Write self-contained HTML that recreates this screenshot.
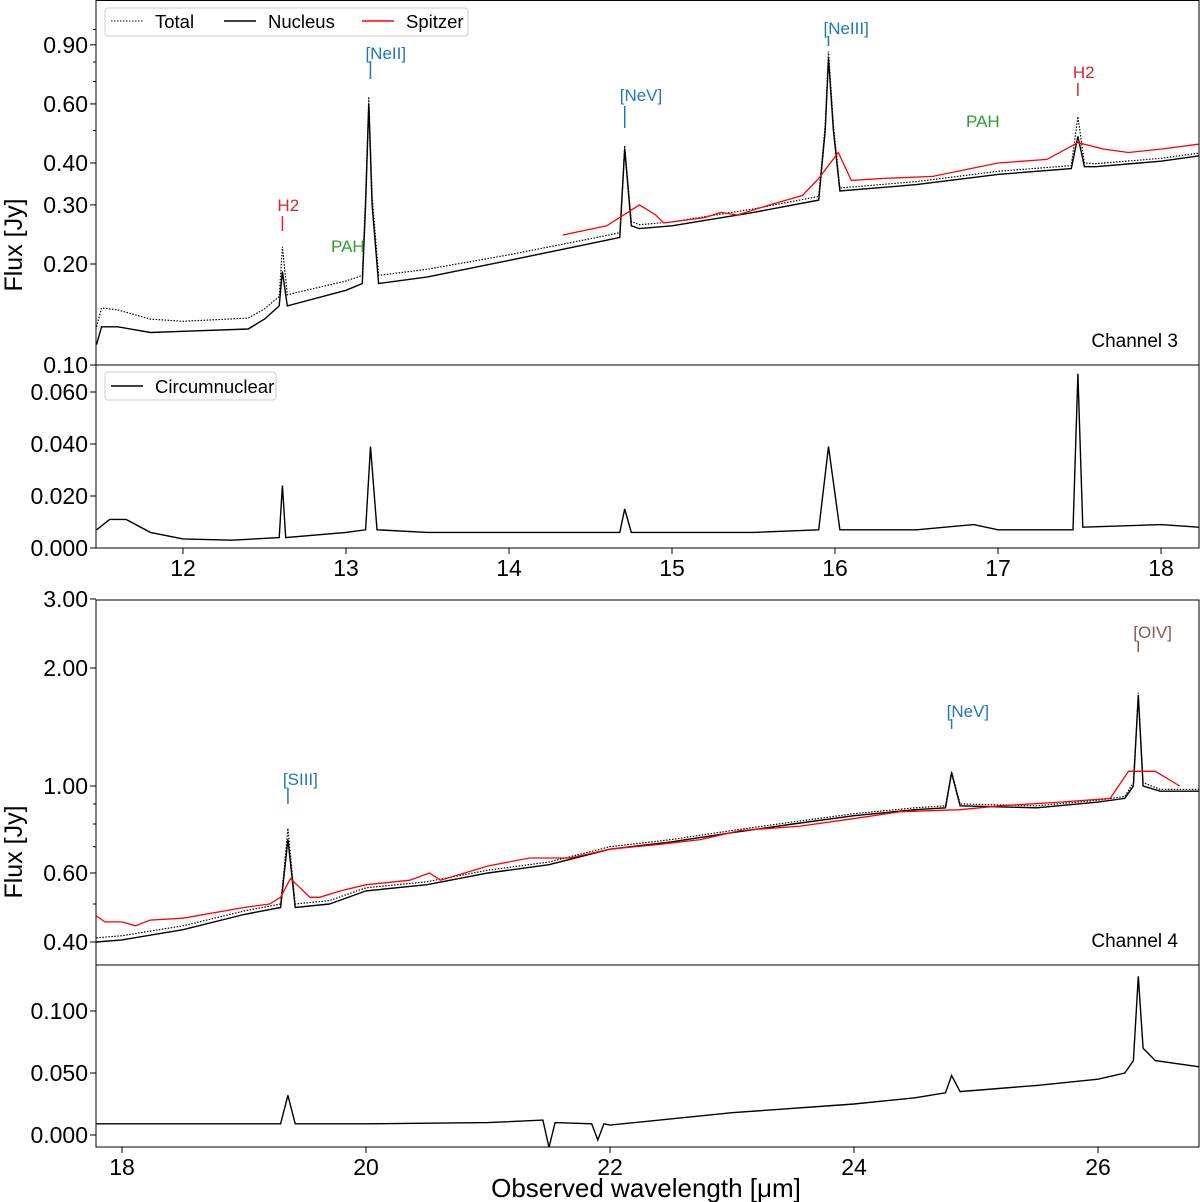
<!DOCTYPE html>
<html><head><meta charset="utf-8"><style>
body{margin:0;background:#fff;}
svg{display:block;font-family:"Liberation Sans","DejaVu Sans",sans-serif;}
</style></head><body>
<svg id="chart" width="1200" height="1202" viewBox="0 0 1200 1202" xmlns="http://www.w3.org/2000/svg">
<g id="root"></g>
</svg>
<script>
// ---------- Channel 3 data ----------
const ch3NucW=[11.47,11.5,11.6,11.8,12.0,12.4,12.5,12.59,12.61,12.64,13.0,13.1,13.12,13.14,13.16,13.2,13.5,14.0,14.5,14.68,14.71,14.75,14.8,15.0,15.5,15.9,15.94,15.96,15.99,16.03,16.5,17.0,17.45,17.49,17.53,17.6,18.0,18.23];
const ch3NucF=[0.115,0.13,0.13,0.125,0.126,0.128,0.137,0.15,0.19,0.15,0.167,0.175,0.3,0.6,0.3,0.175,0.183,0.205,0.23,0.24,0.44,0.26,0.255,0.26,0.285,0.31,0.5,0.82,0.5,0.33,0.345,0.37,0.385,0.48,0.39,0.39,0.405,0.42];
const ch3TotW=[11.47,11.5,11.6,11.8,12.0,12.4,12.5,12.59,12.61,12.64,13.0,13.1,13.12,13.14,13.16,13.2,13.5,14.0,14.5,14.68,14.71,14.75,14.8,15.0,15.5,15.9,15.94,15.96,15.99,16.03,16.5,17.0,17.45,17.49,17.53,17.6,18.0,18.23];
const ch3TotF=[0.13,0.148,0.146,0.137,0.135,0.138,0.147,0.16,0.225,0.162,0.178,0.185,0.32,0.63,0.32,0.185,0.193,0.213,0.238,0.248,0.45,0.268,0.262,0.267,0.292,0.318,0.52,0.86,0.52,0.337,0.352,0.378,0.393,0.55,0.4,0.398,0.413,0.428];
const ch3SpzW=[14.33,14.6,14.8,14.9,14.95,15.2,15.3,15.4,15.6,15.8,15.9,16.02,16.1,16.3,16.6,17.0,17.3,17.49,17.65,17.8,18.0,18.23];
const ch3SpzF=[0.244,0.26,0.3,0.28,0.265,0.275,0.285,0.28,0.3,0.32,0.36,0.43,0.355,0.36,0.365,0.4,0.41,0.46,0.44,0.43,0.44,0.455];
const ch3CirW=[11.47,11.55,11.65,11.8,12.0,12.3,12.59,12.61,12.63,13.0,13.12,13.15,13.19,13.5,14.0,14.68,14.71,14.75,15.5,15.9,15.96,16.03,16.5,16.85,17.0,17.46,17.49,17.52,18.0,18.23];
const ch3CirF=[0.007,0.011,0.011,0.006,0.0035,0.003,0.004,0.024,0.004,0.006,0.007,0.039,0.007,0.006,0.006,0.006,0.015,0.006,0.006,0.007,0.039,0.007,0.007,0.009,0.007,0.007,0.067,0.008,0.009,0.008];
// ---------- Channel 4 data ----------
const ch4NucW=[17.79,18.0,18.5,19.0,19.30,19.33,19.36,19.39,19.42,19.70,20.0,20.5,21.0,21.5,22.0,22.5,23.0,23.5,24.0,24.5,24.75,24.80,24.87,25.5,26.0,26.22,26.29,26.33,26.37,26.51,26.83];
const ch4NucF=[0.40,0.405,0.43,0.47,0.49,0.6,0.73,0.6,0.49,0.50,0.54,0.56,0.60,0.63,0.69,0.72,0.76,0.80,0.84,0.87,0.88,1.08,0.89,0.88,0.91,0.93,1.0,1.7,1.0,0.97,0.97];
const ch4TotW=[17.79,18.0,18.5,19.0,19.30,19.33,19.36,19.39,19.42,19.70,20.0,20.5,21.0,21.5,22.0,22.5,23.0,23.5,24.0,24.5,24.75,24.80,24.87,25.5,26.0,26.22,26.29,26.33,26.37,26.51,26.83];
const ch4TotF=[0.41,0.415,0.44,0.48,0.50,0.62,0.78,0.62,0.50,0.51,0.55,0.57,0.61,0.64,0.70,0.73,0.77,0.81,0.85,0.88,0.89,1.09,0.90,0.89,0.92,0.94,1.02,1.73,1.02,0.98,0.98];
const ch4SpzW=[17.79,17.86,18.0,18.11,18.23,18.5,19.0,19.21,19.30,19.38,19.46,19.54,19.62,19.79,20.0,20.36,20.52,20.61,21.0,21.34,21.67,22.0,22.41,22.74,23.07,23.56,24.05,24.38,24.87,25.2,25.69,26.1,26.25,26.47,26.67];
const ch4SpzF=[0.466,0.45,0.45,0.44,0.455,0.46,0.49,0.50,0.52,0.58,0.55,0.52,0.52,0.54,0.56,0.575,0.60,0.575,0.625,0.655,0.655,0.69,0.71,0.73,0.77,0.79,0.83,0.86,0.87,0.89,0.91,0.93,1.09,1.09,1.0];
const ch4CirW=[17.79,19.30,19.36,19.42,20.0,21.0,21.45,21.5,21.55,21.85,21.9,21.95,22.0,23.0,24.0,24.5,24.75,24.80,24.87,25.5,26.0,26.22,26.29,26.33,26.37,26.47,26.83];
const ch4CirF=[0.009,0.009,0.032,0.009,0.009,0.01,0.012,-0.01,0.01,0.009,-0.004,0.009,0.008,0.018,0.025,0.03,0.034,0.048,0.035,0.04,0.045,0.05,0.06,0.128,0.07,0.06,0.055];
// ---------- ticks ----------
const ch3XTicks=[12,13,14,15,16,17,18];
const ch4XTicks=[18,20,22,24,26];
const p1Ticks=[0.10,0.20,0.30,0.40,0.60,0.90];
const p1Minor=[0.5,0.7,0.8,1.0];
const p2Ticks=[0,0.02,0.04,0.06];
const p3Ticks=[0.40,0.60,1.00,2.00,3.00];
const p3Minor=[0.5,0.7,0.8,0.9];
const p4Ticks=[0,0.05,0.1];

const NS="http://www.w3.org/2000/svg";
const root=document.getElementById('root');
function el(tag,attrs,parent){const e=document.createElementNS(NS,tag);for(const k in attrs)e.setAttribute(k,attrs[k]);(parent||root).appendChild(e);return e;}
const L=96,R=1199;
const x3=w=>183+(w-12)*163;
const x4=w=>122+(w-18)*122;
const y1=f=>365-335.5*Math.log10(f/0.1);
const y2=f=>548-2600*f;
const y3=f=>942-392*Math.log10(f/0.4);
const y4=f=>1135-1240*f;
function path(W,F,xf,yf,attrs,name){
  let d='';for(let i=0;i<W.length;i++){d+=(i?'L':'M')+xf(W[i]).toFixed(1)+','+yf(F[i]).toFixed(1);}
  const p=el('path',Object.assign({d:d,fill:'none'},attrs));
  
  
  return p;
}
function text(x,y,s,attrs,name){const t=el('text',Object.assign({x:x,y:y},attrs));t.textContent=s;
  
  
  return t;}
function frame(top,bot,name){const r=el('rect',{x:L,y:top,width:R-L,height:bot-top,fill:'none',stroke:'#000','stroke-width':1});
  
  }
function yTicks(vals,yf,fmt,name,minor){
  vals.forEach(v=>{const y=yf(v);el('line',{x1:L-6,x2:L,y1:y,y2:y,stroke:'#000'});
    text(L-8,y+8,fmt(v),{'font-size':23,'text-anchor':'end'},name);});
  (minor||[]).forEach(v=>{const y=yf(v);el('line',{x1:L-3,x2:L,y1:y,y2:y,stroke:'#000'});});
}
function xTicks(vals,xf,yb,name){vals.forEach(v=>{const x=xf(v);el('line',{x1:x,x2:x,y1:yb,y2:yb+6,stroke:'#000'});
  text(x,yb+28,String(v),{'font-size':23,'text-anchor':'middle'},name);});}
function marker(x,yt,yl1,yl2,label,color,name){
  text(x-5,yt,label,{'font-size':17,fill:color},name);
  el('line',{x1:x,x2:x,y1:yl1,y2:yl2,stroke:color,'stroke-width':1.5});
}
const dot={stroke:'#000','stroke-width':1.2,'stroke-dasharray':'1.5,1.5'};
const solid={stroke:'#000','stroke-width':1.4};
const red={stroke:'#ff0000','stroke-width':1.3};

// Panel 1
frame(0.5,365,'channel3-main-panel');
path(ch3TotW,ch3TotF,x3,y1,dot,'ch3-total-line');
path(ch3NucW,ch3NucF,x3,y1,solid,'ch3-nucleus-line');
path(ch3SpzW,ch3SpzF,x3,y1,red,'ch3-spitzer-line');
yTicks(p1Ticks,y1,v=>v.toFixed(2),'ch3-y-tick-label',p1Minor);
marker(x3(12.61),211,216,231,'H2','#d62728','h2-label-1');
marker(x3(13.15),59,61,79,'[NeII]','#1f77b4','neii-label');
marker(x3(14.71),101,106,128,'[NeV]','#1f77b4','nev-label-1');
marker(x3(15.96),34,36,46,'[NeIII]','#1f77b4','neiii-label');
marker(x3(17.49),78,83,96,'H2','#d62728','h2-label-2');
text(331,252,'PAH',{'font-size':17,fill:'#2ca02c'},'pah-label-1');
text(966,127,'PAH',{'font-size':17,fill:'#2ca02c'},'pah-label-2');
text(1178,347,'Channel 3',{'font-size':19,'text-anchor':'end'},'channel3-label');
// legend 1
const lg=el('g',{});
el('rect',{x:105,y:8,width:363,height:28,rx:3,fill:'#fff',stroke:'#ccc'},lg);
el('line',{x1:111,x2:143,y1:21,y2:21,stroke:'#000','stroke-dasharray':'1.5,1.5'},lg);
el('line',{x1:224,x2:256,y1:21,y2:21,stroke:'#000','stroke-width':1.4},lg);
el('line',{x1:362,x2:394,y1:21,y2:21,stroke:'#ff0000','stroke-width':1.4},lg);
text(155,28,'Total',{'font-size':18.5},'legend-entry-total');
text(268,28,'Nucleus',{'font-size':18.5},'legend-entry-nucleus');
text(406,28,'Spitzer',{'font-size':18.5},'legend-entry-spitzer');

// Panel 2
frame(365,548,'channel3-circumnuclear-panel');
path(ch3CirW,ch3CirF,x3,y2,solid,'ch3-circumnuclear-line');
yTicks(p2Ticks,y2,v=>v.toFixed(3),'ch3-circ-y-tick-label');
xTicks(ch3XTicks,x3,548,'ch3-x-tick-label');
el('rect',{x:105,y:372,width:171,height:28,rx:3,fill:'#fff',stroke:'#ccc'});
el('line',{x1:111,x2:143,y1:386,y2:386,stroke:'#000','stroke-width':1.4});
text(155,393,'Circumnuclear',{'font-size':18.5},'legend-entry-circumnuclear');

// Panel 3
frame(600,965,'channel4-main-panel');
path(ch4TotW,ch4TotF,x4,y3,dot,'ch4-total-line');
path(ch4NucW,ch4NucF,x4,y3,solid,'ch4-nucleus-line');
path(ch4SpzW,ch4SpzF,x4,y3,red,'ch4-spitzer-line');
yTicks(p3Ticks,y3,v=>v.toFixed(2),'ch4-y-tick-label',p3Minor);
marker(x4(19.36),785,788,804,'[SIII]','#1f77b4','siii-label');
marker(x4(24.80),717,719,729,'[NeV]','#1f77b4','nev-label-2');
marker(x4(26.33),638,641,652,'[OIV]','#8c564b','oiv-label');
text(1178,947,'Channel 4',{'font-size':19,'text-anchor':'end'},'channel4-label');

// Panel 4
frame(965,1147,'channel4-circumnuclear-panel');
path(ch4CirW,ch4CirF,x4,y4,solid,'ch4-circumnuclear-line');
yTicks(p4Ticks,y4,v=>v.toFixed(3),'ch4-circ-y-tick-label');
xTicks(ch4XTicks,x4,1147,'ch4-x-tick-label');

// axis titles
text(646,1197,'Observed wavelength [μm]',{'font-size':26,'text-anchor':'middle'},'x-axis-title');
text(0,0,'Flux [Jy]',{'font-size':25,'text-anchor':'middle',transform:'translate(22,245) rotate(-90)'},'y-axis-title-ch3');
text(0,0,'Flux [Jy]',{'font-size':25,'text-anchor':'middle',transform:'translate(22,852) rotate(-90)'},'y-axis-title-ch4');
</script>
</body></html>
